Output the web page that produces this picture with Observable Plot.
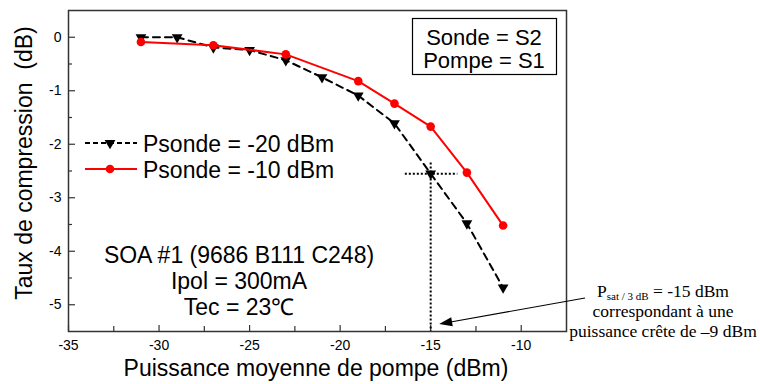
<!DOCTYPE html>
<html><head><meta charset="utf-8">
<script src="https://cdn.jsdelivr.net/npm/d3@7"></script>
<script src="https://cdn.jsdelivr.net/npm/@observablehq/plot@0.6"></script>
<style>body{margin:0;background:#fff} svg{display:block}</style>
</head><body><div id="chart"></div>
<script>
// ---- data ----
const seriesNames = ["Psonde = -20 dBm", "Psonde = -10 dBm"];
const pumpPowerA = [-31, -29, -27, -25, -23, -21, -19, -17, -15, -13, -11];
const compressionA = [0, 0, -0.19, -0.24, -0.43, -0.75, -1.09, -1.61, -2.55, -3.48, -4.68];
const pumpPowerB = [-31, -27, -23, -19, -17, -15, -13, -11];
const compressionB = [-0.09, -0.15, -0.32, -0.82, -1.24, -1.67, -2.53, -3.52];
const xMajorTicks = [-35, -30, -25, -20, -15, -10];
const xMinorTicks = [-32.5, -27.5, -22.5, -17.5, -12.5];
const yMajorTicks = [0, -1, -2, -3, -4, -5];
const yMinorTicks = [-0.5, -1.5, -2.5, -3.5, -4.5];
const xLabel = "Puissance moyenne de pompe (dBm)";
const yLabel = "Taux de compression  (dB)";
const boxLines = ["Sonde = S2", "Pompe = S1"];
const soaLines = ["SOA #1 (9686 B111 C248)", "Ipol = 300mA", "Tec = 23\u2103"];
const psatPump = -15;        // P_sat / 3 dB
const psatCompression = -2.55;
const noteLines = ["correspondant à une", "puissance crête de \u20139 dBm"];

const dataA = pumpPowerA.map((x, i) => ({x, y: compressionA[i]}));
const dataB = pumpPowerB.map((x, i) => ({x, y: compressionB[i]}));

const W = 760, H = 384, mL = 68, mR = 194, mT = 10, mB = 53;
const plotW = W - mL - mR, plotH = H - mT - mB;
const SANS = "'Liberation Sans', Arial, sans-serif";
const SERIF = "'Liberation Serif', 'Times New Roman', serif";
const fmt = d => String(d);
const triR = 4;

const plot = Plot.plot({
  width: W, height: H,
  marginLeft: mL, marginRight: mR, marginTop: mT, marginBottom: mB,
  style: {fontFamily: SANS, fontSize: "14px", color: "#000", background: "#fff"},
  x: {domain: [-35, -7.5]},
  y: {domain: [-5.5, 0.5]},
  marks: [
    Plot.axisX({ticks: xMajorTicks, tickFormat: fmt, tickSize: 0, tickPadding: 9, fontSize: 14, label: null}),
    Plot.axisY({ticks: yMajorTicks, tickFormat: fmt, tickSize: 0, tickPadding: 7, fontSize: 14, label: null}),
    Plot.tickX(xMajorTicks, {x: d => d, insetTop: plotH - 6, stroke: "#333", strokeWidth: 1.2}),
    Plot.tickX(xMinorTicks, {x: d => d, insetTop: plotH - 5, stroke: "#333", strokeWidth: 1.2}),
    Plot.tickY(yMajorTicks, {y: d => d, insetRight: plotW - 7, stroke: "#333", strokeWidth: 1.2}),
    Plot.tickY(yMinorTicks, {y: d => d, insetRight: plotW - 4, stroke: "#333", strokeWidth: 1.2}),
    // dotted guides at P_sat/3dB
    Plot.ruleX([psatPump], {y1: psatCompression + 0.2, y2: -5.5, stroke: "#000", strokeWidth: 2, strokeDasharray: "2,2"}),
    Plot.ruleY([psatCompression], {x1: psatPump - 1.4, x2: psatPump + 1.5, stroke: "#000", strokeWidth: 2, strokeDasharray: "2,2"}),
    // series
    Plot.line(dataA, {x: "x", y: "y", stroke: "#000", strokeWidth: 2, strokeDasharray: "7,5"}),
    Plot.dot(dataA, {x: "x", y: "y", symbol: "triangle", rotate: 180, r: triR, fill: "#000"}),
    Plot.line(dataB, {x: "x", y: "y", stroke: "#f00", strokeWidth: 2}),
    Plot.dot(dataB, {x: "x", y: "y", r: 4.3, fill: "#f00"}),
    Plot.frame({stroke: "#333", strokeWidth: 1.5})
  ]
});

const svg = d3.select(plot);
const xs = plot.scale("x"), ys = plot.scale("y");
const g = svg.append("g").attr("text-anchor", "start");

// axis titles
g.append("text").attr("x", 316).attr("y", 376).attr("text-anchor", "middle")
  .attr("font-family", SANS).attr("font-size", 23).attr("fill", "#000").text(xLabel);
g.append("text").attr("transform", "translate(32,163) rotate(-90)").attr("text-anchor", "middle")
  .attr("font-family", SANS).attr("font-size", 23).attr("fill", "#000")
  .style("white-space", "pre").text(yLabel);

// box "Sonde / Pompe"
g.append("rect").attr("x", 412.5).attr("y", 18.5).attr("width", 144).attr("height", 56)
  .attr("fill", "#fff").attr("stroke", "#000").attr("stroke-width", 1.2);
boxLines.forEach((t, i) => g.append("text").attr("x", 484).attr("y", 45 + i * 23)
  .attr("text-anchor", "middle").attr("font-family", SANS).attr("font-size", 22).attr("fill", "#000").text(t));

// legend
const legY = [143, 169];
const legStyle = [
  {stroke: "#000", dash: "5,3", sym: "tri"},
  {stroke: "#f00", dash: null, sym: "dot"}
];
seriesNames.forEach((name, i) => {
  const s = legStyle[i], yy = legY[i];
  const ln = g.append("line").attr("x1", 85).attr("x2", 137).attr("y1", yy).attr("y2", yy)
    .attr("stroke", s.stroke).attr("stroke-width", 2);
  if (s.dash) ln.attr("stroke-dasharray", s.dash);
  if (s.sym === "tri") {
    g.append("path").attr("d", d3.symbol(d3.symbolTriangle, triR * triR * Math.PI)())
      .attr("transform", `translate(110,${yy}) rotate(180)`).attr("fill", "#000");
  } else {
    g.append("circle").attr("cx", 110).attr("cy", yy).attr("r", 4.3).attr("fill", "#f00");
  }
  g.append("text").attr("x", 143).attr("y", yy + 9).attr("text-anchor", "start").attr("font-family", SANS)
    .attr("font-size", 23).attr("fill", "#000").text(name);
});

// SOA annotation
soaLines.forEach((t, i) => g.append("text").attr("x", 239).attr("y", 263 + i * 26)
  .attr("text-anchor", "middle").attr("font-family", SANS).attr("font-size", 23).attr("fill", "#000").text(t));

// P_sat note text (serif)
const n1 = g.append("text").attr("x", 663).attr("y", 297).attr("text-anchor", "middle")
  .attr("font-family", SERIF).attr("font-size", 17.5).attr("fill", "#000");
n1.append("tspan").text("P");
n1.append("tspan").attr("font-size", 11).attr("dy", 3).text("sat / 3 dB");
n1.append("tspan").attr("dy", -3).text(" = -15 dBm");
noteLines.forEach((t, i) => g.append("text").attr("x", 663).attr("y", 317 + i * 19.5)
  .attr("text-anchor", "middle").attr("font-family", SERIF).attr("font-size", 17.5).attr("fill", "#000").text(t));

// arrow pointing to P_sat on the x axis
const tip = [xs.apply(psatPump) + 9, ys.apply(-5.37)];
const start = [585, 298];
const ang = Math.atan2(tip[1] - start[1], tip[0] - start[0]);
const hl = 13, hw = 4.5;
const base = [tip[0] - hl * Math.cos(ang), tip[1] - hl * Math.sin(ang)];
g.append("line").attr("x1", start[0]).attr("y1", start[1]).attr("x2", base[0]).attr("y2", base[1])
  .attr("stroke", "#000").attr("stroke-width", 1.2);
g.append("path").attr("d", `M${tip[0]},${tip[1]} L${base[0] - hw * Math.sin(ang)},${base[1] + hw * Math.cos(ang)} L${base[0] + hw * Math.sin(ang)},${base[1] - hw * Math.cos(ang)} Z`)
  .attr("fill", "#000");

document.getElementById("chart").appendChild(plot);
</script>
</body></html>
